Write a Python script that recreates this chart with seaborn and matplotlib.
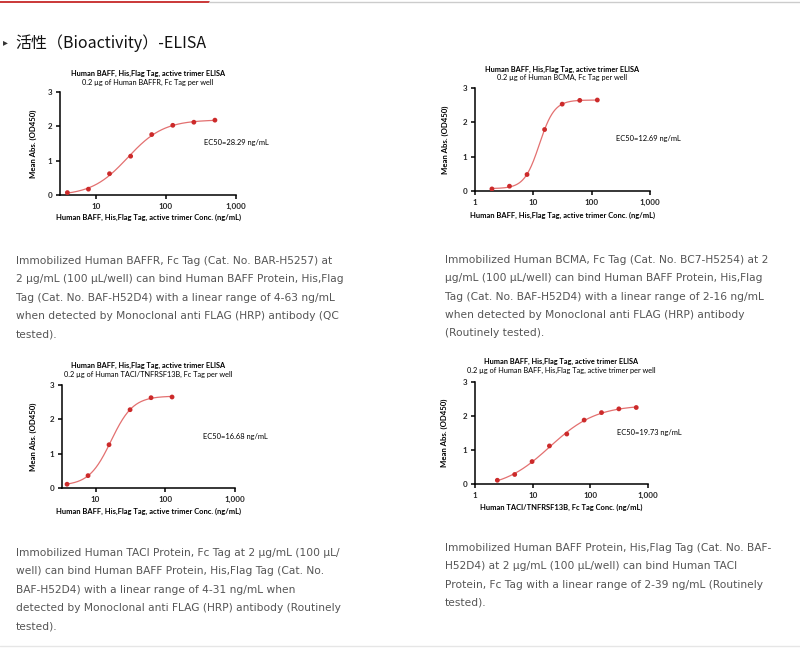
import numpy as np
import pandas as pd
import matplotlib
matplotlib.use("Agg")
import matplotlib.pyplot as plt
import seaborn as sns
from matplotlib.ticker import FixedLocator, FixedFormatter, NullLocator

sns.set_theme(style="white")
plt.rcParams['font.family'] = ['DejaVu Sans']

# ---------------- data ----------------
title_main = "Human BAFF, His,Flag Tag, active trimer ELISA"
subtitles = [
    "0.2 µg of Human BAFFR, Fc Tag per well",
    "0.2 µg of Human BCMA, Fc Tag per well",
    "0.2 µg of Human TACI/TNFRSF13B, Fc Tag per well",
    "0.2 µg of Human BAFF, His,Flag Tag, active trimer per well",
]
xlabels = [
    "Human BAFF, His,Flag Tag, active trimer Conc. (ng/mL)",
    "Human BAFF, His,Flag Tag, active trimer Conc. (ng/mL)",
    "Human BAFF, His,Flag Tag, active trimer Conc. (ng/mL)",
    "Human TACI/TNFRSF13B, Fc Tag Conc. (ng/mL)",
]
ylabel = "Mean Abs. (OD450)"
ec50_values = [28.29, 12.69, 16.68, 19.73]

conc_1 = [3.9, 7.8, 15.6, 31.25, 62.5, 125, 250, 500]
od_1 = [0.07, 0.17, 0.62, 1.13, 1.76, 2.03, 2.12, 2.18]

conc_2 = [1.95, 3.9, 7.8, 15.6, 31.25, 62.5, 125]
od_2 = [0.06, 0.14, 0.48, 1.79, 2.53, 2.64, 2.65]

conc_3 = [3.9, 7.8, 15.6, 31.25, 62.5, 125]
od_3 = [0.11, 0.36, 1.26, 2.28, 2.63, 2.65]

conc_4 = [2.44, 4.88, 9.77, 19.53, 39.06, 78.1, 156.25, 312.5, 625]
od_4 = [0.11, 0.28, 0.66, 1.12, 1.47, 1.88, 2.10, 2.21, 2.25]

xtick_vals = [1, 10, 100, 1000]
xtick_labels = ["1", "10", "100", "1,000"]
ytick_vals = [0, 1, 2, 3]

header = "活性（Bioactivity）-ELISA"
desc_1 = ["Immobilized Human BAFFR, Fc Tag (Cat. No. BAR-H5257) at",
          "2 µg/mL (100 µL/well) can bind Human BAFF Protein, His,Flag",
          "Tag (Cat. No. BAF-H52D4) with a linear range of 4-63 ng/mL",
          "when detected by Monoclonal anti FLAG (HRP) antibody (QC",
          "tested)."]
desc_2 = ["Immobilized Human BCMA, Fc Tag (Cat. No. BC7-H5254) at 2",
          "µg/mL (100 µL/well) can bind Human BAFF Protein, His,Flag",
          "Tag (Cat. No. BAF-H52D4) with a linear range of 2-16 ng/mL",
          "when detected by Monoclonal anti FLAG (HRP) antibody",
          "(Routinely tested)."]
desc_3 = ["Immobilized Human TACI Protein, Fc Tag at 2 µg/mL (100 µL/",
          "well) can bind Human BAFF Protein, His,Flag Tag (Cat. No.",
          "BAF-H52D4) with a linear range of 4-31 ng/mL when",
          "detected by Monoclonal anti FLAG (HRP) antibody (Routinely",
          "tested)."]
desc_4 = ["Immobilized Human BAFF Protein, His,Flag Tag (Cat. No. BAF-",
          "H52D4) at 2 µg/mL (100 µL/well) can bind Human TACI",
          "Protein, Fc Tag with a linear range of 2-39 ng/mL (Routinely",
          "tested)."]

# ---------------- layout ----------------
W, H = 800, 649
fig = plt.figure(figsize=(W / 100, H / 100), dpi=100)
fig.patch.set_facecolor("white")


def px(x, y):
    return x / W, 1 - y / H


def add_ax(left, top, right, bottom):
    return fig.add_axes([left / W, 1 - bottom / H, (right - left) / W, (bottom - top) / H])


def fit_4pl(x, y, ec50):
    x = np.asarray(x, float)
    y = np.asarray(y, float)
    best = None
    for h in np.arange(0.3, 6.0, 0.01):
        s = 1.0 / (1.0 + (ec50 / x) ** h)
        A = np.column_stack([1 - s, s])
        coef, *_ = np.linalg.lstsq(A, y, rcond=None)
        r = np.sum((A @ coef - y) ** 2)
        if best is None or r < best[0]:
            best = (r, h, coef)
    _, h, (bot, top) = best
    return lambda xx: bot + (top - bot) / (1.0 + (ec50 / xx) ** h)


chart_font = ['Lato', 'DejaVu Sans']
line_color = "#e37070"
dot_color = "#cc2a2a"

panels = [
    dict(conc=conc_1, od=od_1, box=(60, 92, 236, 195), xmin=3.06, ticks=[10, 100, 1000],
         title_y=73, sub_y=82, xl_y=217, yl_x=33, ec=(204, 142)),
    dict(conc=conc_2, od=od_2, box=(475, 88, 650, 191), xmin=1, ticks=[1, 10, 100, 1000],
         title_y=69, sub_y=77, xl_y=215, yl_x=445, ec=(616, 138)),
    dict(conc=conc_3, od=od_3, box=(62, 385, 235, 488), xmin=3.3, ticks=[10, 100, 1000],
         title_y=365, sub_y=374, xl_y=511, yl_x=33, ec=(203, 436)),
    dict(conc=conc_4, od=od_4, box=(475, 382, 648, 484), xmin=1, ticks=[1, 10, 100, 1000],
         title_y=361, sub_y=370, xl_y=507, yl_x=444, ec=(617, 432)),
]

for i, p in enumerate(panels):
    l, t, r, b = p["box"]
    ax = add_ax(l, t, r, b)
    ax.set_facecolor("white")
    f = fit_4pl(p["conc"], p["od"], ec50_values[i])
    xx = np.logspace(np.log10(min(p["conc"])), np.log10(max(p["conc"])), 300)
    curve = pd.DataFrame({"x": xx, "y": f(xx)})
    pts = pd.DataFrame({"x": p["conc"], "y": p["od"]})
    sns.lineplot(data=curve, x="x", y="y", ax=ax, color=line_color, linewidth=0.9)
    sns.scatterplot(data=pts, x="x", y="y", ax=ax, color=dot_color, s=12, edgecolor="none", zorder=3)
    ax.set_xscale("log")
    ax.set_xlim(p["xmin"], 1000)
    ax.set_ylim(0, 3)
    labs = [xtick_labels[xtick_vals.index(v)] for v in p["ticks"]]
    ax.xaxis.set_major_locator(FixedLocator(p["ticks"]))
    ax.xaxis.set_major_formatter(FixedFormatter(labs))
    ax.xaxis.set_minor_locator(NullLocator())
    ax.set_yticks(ytick_vals)
    ax.set_yticklabels([str(v) for v in ytick_vals])
    for sp in ["top", "right"]:
        ax.spines[sp].set_visible(False)
    for sp in ["left", "bottom"]:
        ax.spines[sp].set_color("black")
        ax.spines[sp].set_linewidth(1.1)
    ax.tick_params(axis="both", which="major", direction="out", length=3, width=1.1,
                   color="black", pad=2.5, labelsize=5.8, bottom=True, left=True)
    for lab in ax.get_xticklabels() + ax.get_yticklabels():
        lab.set_fontfamily(chart_font)
        lab.set_fontweight("bold")
    ax.set_xlabel("")
    ax.set_ylabel("")
    cx = (l + r) / 2
    fig.text(*px(cx, p["title_y"]), title_main, ha="center", va="center",
             fontsize=5.3, fontweight="bold", family=chart_font, color="black")
    fig.text(*px(cx, p["sub_y"]), subtitles[i], ha="center", va="center",
             fontsize=5.3, family=chart_font, color="black")
    fig.text(*px(cx, p["xl_y"]), xlabels[i], ha="center", va="center",
             fontsize=5.4, fontweight="bold", family=chart_font, color="black")
    fig.text(*px(p["yl_x"], (t + b) / 2), ylabel, ha="center", va="center", rotation=90,
             fontsize=5.6, fontweight="bold", family=chart_font, color="black")
    fig.text(*px(*p["ec"]), f"EC50={ec50_values[i]} ng/mL", ha="left", va="center",
             fontsize=5.4, family=chart_font, color="black")

# header lines
fig.add_artist(plt.Line2D([0, 209 / W], [1 - 2 / H, 1 - 2 / H], color="#c62828", linewidth=1.3))
fig.add_artist(plt.Line2D([209 / W, 1], [1 - 2 / H, 1 - 2 / H], color="#cccccc", linewidth=1.0))
fig.text(*px(3, 42), "▸", ha="left", va="center", fontsize=7, color="#333333", family=['DejaVu Sans'])
fig.text(*px(15, 43), header, ha="left", va="center", fontsize=11.5, color="#111111",
         family=['Noto Sans CJK SC', 'DejaVu Sans'])

desc_font = ['DejaVu Sans']
def put_desc(lines, x, y0, dy=18.3):
    for k, s in enumerate(lines):
        fig.text(*px(x, y0 + k * dy), s, ha="left", va="center", fontsize=7.7,
                 color="#555555", family=desc_font)

put_desc(desc_1, 16, 261)
put_desc(desc_2, 445, 260)
put_desc(desc_3, 16, 553)
put_desc(desc_4, 445, 548)

fig.add_artist(plt.Line2D([0, 1], [1 - 646 / H, 1 - 646 / H], color="#e6e6e6", linewidth=1.0))

fig.savefig("out.png", dpi=100, facecolor="white")
